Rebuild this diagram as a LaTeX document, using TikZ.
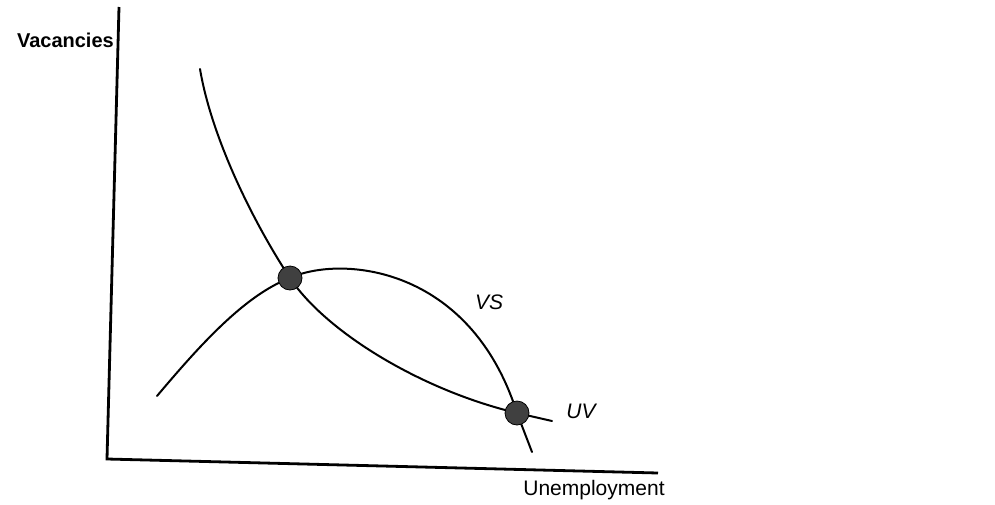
\documentclass[tikz,border=0pt]{standalone}
\usepackage{fontspec}
\setmainfont{Liberation Sans}
\begin{document}
\begin{tikzpicture}[x=1pt,y=-1pt,
  curve/.style={line width=2pt, line cap=round, line join=round},
  axis/.style={line width=2.8pt, line join=miter},
  dot/.style={circle, fill=black!75, draw=black, line width=0.8pt, minimum size=24pt, inner sep=0pt},
  lbl/.style={inner sep=0pt, text=black}]
\useasboundingbox (0,0) rectangle (995,504);
% axes
\coordinate (ytop) at (119,7);
\coordinate (origin) at (107,459);
\coordinate (xend) at (658,473);
\draw[axis] (ytop) -- (origin) -- (xend);
% equilibrium points
\coordinate (A) at (290,278);
\coordinate (B) at (517,413);
\coordinate (uvtop) at (200,69);
\coordinate (uvend) at (552,421);
\coordinate (vsstart) at (157,396);
\coordinate (vsend) at (532,452);
% UV curve
\draw[curve] (uvtop) .. controls (212,140) and (255,225) .. (A)
  .. controls (325,331) and (420,390) .. (B) -- (uvend);
% VS curve
\draw[curve] (vsstart) .. controls (200,345) and (245,295) .. (A)
  .. controls (340,255) and (470,265) .. (B) -- (vsend);
\node[dot] (dotA) at (A) {};
\node[dot] (dotB) at (B) {};
% labels
\node[lbl, anchor=east, font=\fontsize{20}{20}\selectfont\bfseries] (vac) at (114,40) {Vacancies};
\node[lbl, font=\fontsize{21}{21}\selectfont] (unemp) at (594,490) {Unemployment};
\node[lbl, font=\fontsize{21}{21}\selectfont\itshape] (vs) at (489,302) {VS};
\node[lbl, font=\fontsize{21}{21}\selectfont\itshape] (uv) at (581,411) {UV};
\end{tikzpicture}
\end{document}
